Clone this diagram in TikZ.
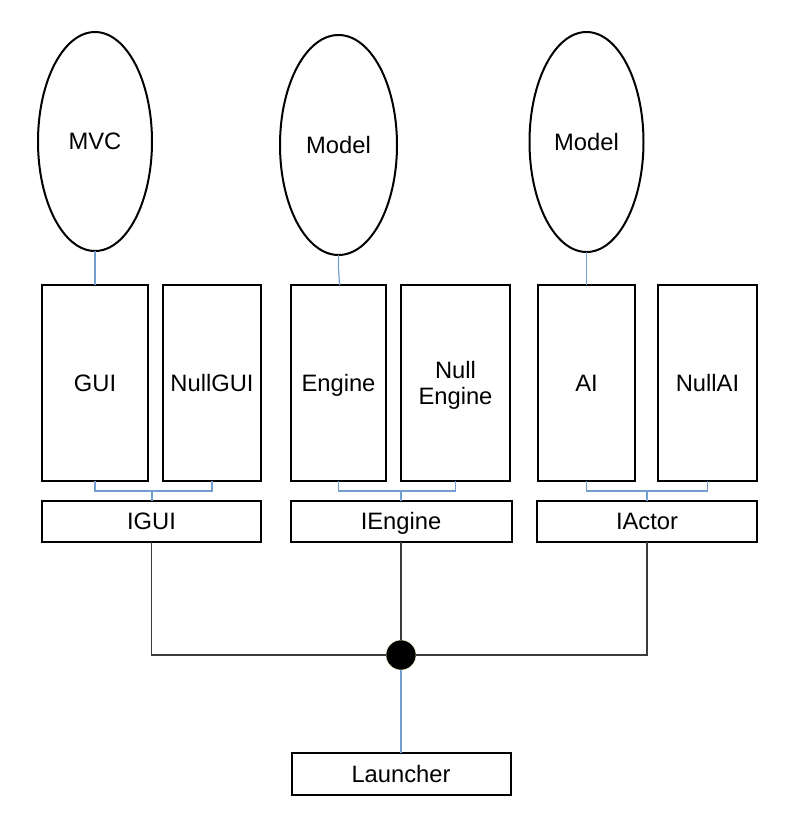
\documentclass[tikz,border=0pt]{standalone}
\usepackage{fontspec}
\setmainfont{Liberation Sans}
\usetikzlibrary{shapes.geometric}
\definecolor{linkblue}{RGB}{114,159,207}
\definecolor{linkgray}{RGB}{60,60,60}
\begin{document}
\begin{tikzpicture}[x=0.75pt,y=-0.75pt,
  every node/.style={font=\fontsize{17.8}{19.5}\selectfont, inner sep=0pt, outer sep=0pt},
  captext/.style={text height=12.7pt, text depth=0pt},
  oval/.style={draw, line width=1.5pt, ellipse, captext, minimum width={114*0.75pt}, minimum height={219*0.75pt}},
  plainbox/.style={draw, line width=1.5pt, minimum height={196*0.75pt}, align=center},
  tallbox/.style={plainbox, captext},
  ifbox/.style={draw, line width=1.5pt, captext, minimum width={220*0.75pt}, minimum height={41*0.75pt}},
  bluelink/.style={draw=linkblue, line width=0.9pt},
  graylink/.style={draw=linkgray, line width=0.9pt}]
\useasboundingbox (0,0) rectangle (794,836);
% ellipses
\node[oval] (mvc) at (95,141.5) {MVC};
\node[oval, minimum width={117*0.75pt}, minimum height={220*0.75pt}] (model1) at (338.5,145) {Model};
\node[oval, minimum height={220*0.75pt}] (model2) at (586.5,142) {Model};
% tall boxes
\node[tallbox, minimum width={106*0.75pt}] (gui) at (95,383) {GUI};
\node[tallbox, minimum width={98*0.75pt}] (nullgui) at (212,383) {NullGUI};
\node[tallbox, minimum width={95*0.75pt}] (engine) at (338.5,383) {Engine};
\node[plainbox, minimum width={109*0.75pt}] (nullengine) at (455.5,383) {\raisebox{-1.5pt}[\height][\depth]{\shortstack{Null\\[3.5pt]Engine}}};
\node[tallbox, minimum width={97*0.75pt}] (ai) at (586.5,383) {AI};
\node[tallbox, minimum width={99*0.75pt}] (nullai) at (707.5,383) {NullAI};
% interface boxes
\node[ifbox, minimum width={219*0.75pt}] (igui) at (151.5,521.5) {IGUI};
\node[ifbox, minimum width={221*0.75pt}] (iengine) at (401,521.5) {IEngine};
\node[ifbox] (iactor) at (647,521.5) {IActor};
\node[ifbox, minimum width={219*0.75pt}, minimum height={42*0.75pt}] (launcher) at (401,774) {Launcher};
% hub
\node[circle, fill=black, draw={rgb,255:red,240;green,235;blue,200}, line width=0.4pt, minimum size={30*0.75pt}] (hub) at (401,655) {};
% model links
\draw[bluelink] (mvc.south) -- (mvc.south |- gui.north);
\coordinate (mj) at (338.5,268);
\draw[bluelink] (model1.south) -- (mj) -- ([xshift=0.75pt]mj |- engine.north);
\draw[bluelink] (model2.south) -- (model2.south |- ai.north);
% brackets
\coordinate (gb) at (152,491);
\coordinate (eb) at (401,491);
\coordinate (ab) at (647,491);
\draw[bluelink] (gui.south) |- (gb) -| (nullgui.south);
\draw[bluelink] (gb) -- (gb |- igui.north);
\draw[bluelink] (engine.south) |- (eb) -| (nullengine.south);
\draw[bluelink] (eb) -- (eb |- iengine.north);
\draw[bluelink] (ai.south) |- (ab) -| (nullai.south);
\draw[bluelink] (ab) -- (ab |- iactor.north);
% bottom links
\draw[graylink] (igui.south) |- (hub);
\draw[graylink] (iactor.south) |- (hub);
\draw[graylink] (iengine.south) -- (hub);
\draw[bluelink] (hub) -- (launcher);
\end{tikzpicture}
\end{document}
